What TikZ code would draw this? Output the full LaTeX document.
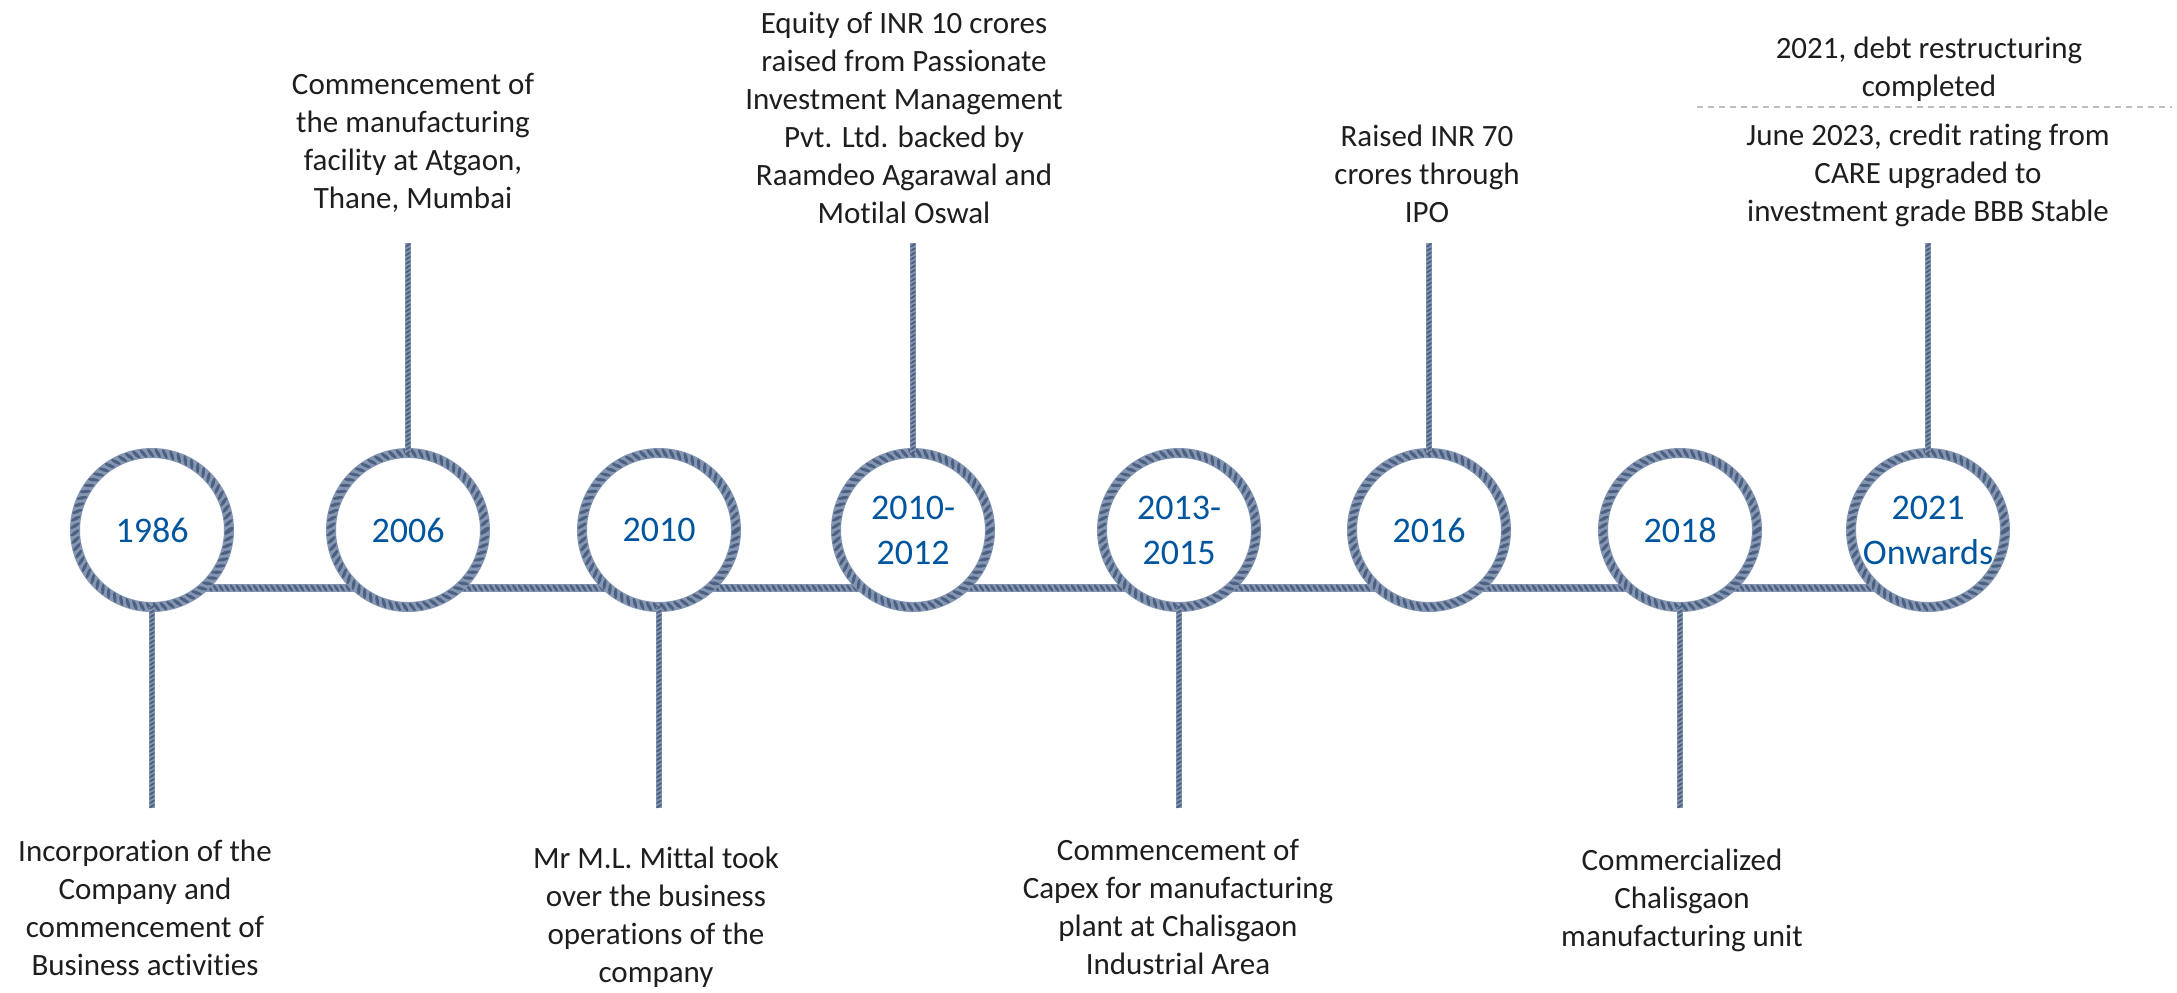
\documentclass[tikz,border=0pt]{standalone}
\usepackage{fontspec}
\setmainfont{Carlito}[Ligatures={NoCommon}]
\usetikzlibrary{decorations.markings}
\definecolor{ropemid}{RGB}{132,150,178}
\definecolor{ropedark}{RGB}{76,96,130}
\definecolor{yearblue}{RGB}{0,86,158}
\definecolor{txt}{RGB}{30,30,30}
\definecolor{dashgrey}{RGB}{190,190,190}
\tikzset{
  rope/.style={draw=ropemid, line width=#1,
    postaction={decorate, decoration={markings,
      mark=between positions 0 and 1 step 0.72*#1 with {\fill[ropedark, rotate=-55] (0,0) ellipse [x radius=0.55*#1, y radius=0.17*#1];}}}},
  rope/.default=5pt,
  yearnode/.style={circle, fill=white, minimum size=77pt, inner sep=0pt, text=yearblue,
    font=\fontsize{18pt}{22.5pt}\selectfont, align=center},
  desc/.style={anchor=base, align=center, text=txt, font=\fontsize{15.5pt}{19pt}\selectfont, inner sep=0pt},
  sepline/.style={draw=dashgrey, line width=0.8pt, dash pattern=on 3pt off 2.5pt},
}
\begin{document}
\begin{tikzpicture}[x=0.5pt,y=-0.5pt]
\fill[white] (0,0) rectangle (2177,992);
\useasboundingbox (0,0) rectangle (2177,992);
% horizontal rope
\coordinate (h1) at (152,588);
\coordinate (h8) at (1928,588);
\draw[rope=4pt] (h1) -- (h8);
% year circles
\node[yearnode] (c1) at (152,530) {1986};
\node[yearnode] (c2) at (408,530) {2006};
\node[yearnode] (c3) at (659,530) {2010};
\node[yearnode] (c4) at (913,530) {2010-\\2012};
\node[yearnode] (c5) at (1179,530) {2013-\\2015};
\node[yearnode] (c6) at (1429,530) {2016};
\node[yearnode] (c7) at (1680,530) {2018};
\node[yearnode] (c8) at (1928,530) {2021\\Onwards};
\foreach \i in {1,...,8}{\draw[rope] (c\i.center) circle [radius=38.5pt];}
% vertical ropes
\coordinate (e1) at (152,808);
\coordinate (e2) at (408,243);
\coordinate (e3) at (659,808);
\coordinate (e4) at (913,243);
\coordinate (e5) at (1179,808);
\coordinate (e6) at (1429,243);
\coordinate (e7) at (1680,808);
\coordinate (e8) at (1928,243);
\draw[rope=3pt] (c1.south) -- (e1);
\draw[rope=3pt] (c2.north) -- (e2);
\draw[rope=3pt] (c3.south) -- (e3);
\draw[rope=3pt] (c4.north) -- (e4);
\draw[rope=3pt] (c5.south) -- (e5);
\draw[rope=3pt] (c6.north) -- (e6);
\draw[rope=3pt] (c7.south) -- (e7);
\draw[rope=3pt] (c8.north) -- (e8);
% top texts (anchor = baseline of last line)
\node[desc] (t2) at (413,208) {Commencement of\\the manufacturing\\facility at Atgaon,\\Thane, Mumbai};
\node[desc] (t4) at (904,223) {Equity of INR 10 crores\\raised from Passionate\\Investment Management\\Pvt. Ltd. backed by\\Raamdeo Agarawal and\\Motilal Oswal};
\node[desc] (t6) at (1427,222) {Raised INR 70\\crores through\\IPO};
\node[desc] (t8a) at (1929,96) {2021, debt restructuring\\completed};
\coordinate (s1) at (1697,107);
\coordinate (s2) at (2172,107);
\draw[sepline] (s1) -- (s2);
\node[desc] (t8b) at (1928,221) {June 2023, credit rating from\\CARE upgraded to\\investment grade BBB Stable};
% bottom texts
\node[desc] (b1) at (145,975) {Incorporation of the\\Company and\\commencement of\\Business activities};
\node[desc] (b3) at (656,982) {Mr M.L. Mittal took\\over the business\\operations of the\\company};
\node[desc] (b5) at (1178,974) {Commencement of\\Capex for manufacturing\\plant at Chalisgaon\\Industrial Area};
\node[desc] (b7) at (1682,946) {Commercialized\\Chalisgaon\\manufacturing unit};
\end{tikzpicture}
\end{document}
